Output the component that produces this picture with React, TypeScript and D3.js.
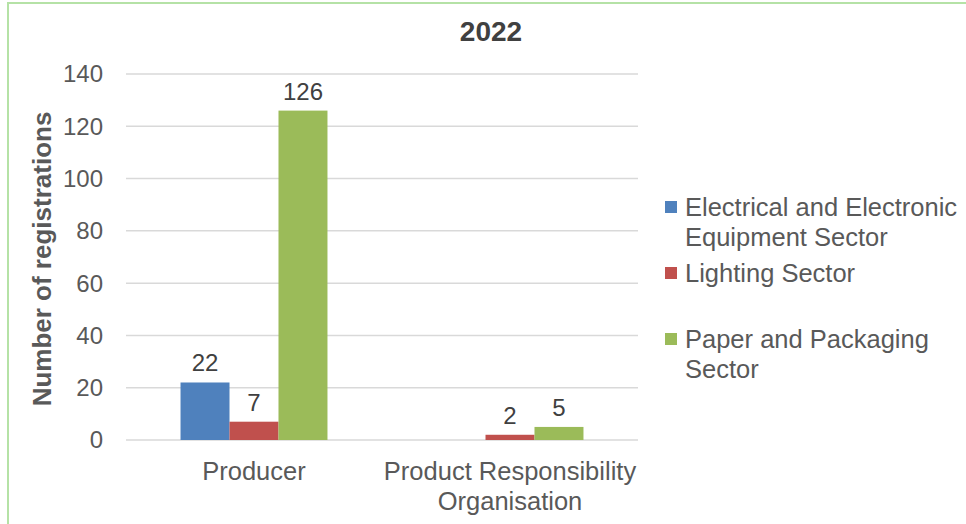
import React from "react";
import * as d3 from "d3";

const categories = ["Producer", "Product Responsibility\nOrganisation"];
const seriesNames = ["Electrical and Electronic\nEquipment Sector", "Lighting Sector", "Paper and Packaging\nSector"];
const electrical = [22, null];
const lighting = [7, 2];
const paper = [126, 5];
const yTicks = [0, 20, 40, 60, 80, 100, 120, 140];
const title = "2022";
const yLabel = "Number of registrations";

const colors = ["#4f81bd", "#c0504d", "#9bbb59"];
const W = 966, H = 524;
const plot = { left: 126, right: 638, top: 74, bottom: 440 };
const font = "'Liberation Sans', Arial, sans-serif";

export default function App() {
  const series = [electrical, lighting, paper];
  const x0 = d3.scaleBand<string>().domain(categories).range([plot.left, plot.right]).paddingInner(0.426).paddingOuter(0.213);
  const x1 = d3.scaleBand<number>().domain([0, 1, 2]).range([0, x0.bandwidth()]);
  const y = d3.scaleLinear().domain([0, 140]).range([plot.bottom, plot.top]);
  const legendY = [207, 273, 339];
  return (
    <svg width={W} height={H} style={{ position: "absolute", left: 0, top: 0, fontFamily: font }}>
      <rect x={0} y={0} width={W} height={H} fill="#fff" />
      <rect x={8} y={3} width={W + 10} height={H + 10} fill="none" stroke="#b5e2a6" strokeWidth={2} />
      <text x={491} y={41} textAnchor="middle" fontSize={28} fontWeight="bold" fill="#404040">{title}</text>
      {yTicks.map((t) => (
        <g key={t}>
          <line x1={plot.left} x2={plot.right} y1={y(t)} y2={y(t)} stroke="#d9d9d9" strokeWidth={1.5} />
          <text x={103} y={y(t)} dy="0.35em" textAnchor="end" fontSize={24} fill="#595959">{t}</text>
        </g>
      ))}
      <text transform={`translate(51,${(plot.top + plot.bottom) / 2 + 2}) rotate(-90)`} textAnchor="middle" fontSize={26} fontWeight="bold" fill="#595959">{yLabel}</text>
      {categories.map((c, ci) => (
        <g key={c}>
          {series.map((s, si) => {
            const v = s[ci];
            if (v == null) return null;
            const bx = (x0(c) as number) + (x1(si) as number);
            const bw = x1.bandwidth();
            return (
              <g key={si}>
                <rect x={bx} y={y(v)} width={bw} height={plot.bottom - y(v)} fill={colors[si]} />
                <text x={bx + bw / 2} y={y(v) - 11} textAnchor="middle" fontSize={24} fill="#404040">{v}</text>
              </g>
            );
          })}
          {c.split("\n").map((line, li) => (
            <text key={li} x={(x0(c) as number) + x0.bandwidth() / 2} y={480 + li * 30} textAnchor="middle" fontSize={25.5} fill="#595959">{line}</text>
          ))}
        </g>
      ))}
      {seriesNames.map((n, i) => (
        <g key={n}>
          <rect x={665} y={legendY[i] - 6} width={12} height={12} fill={colors[i]} />
          {n.split("\n").map((line, li) => (
            <text key={li} x={685} y={legendY[i] + li * 30} dy="0.35em" fontSize={25.5} fill="#595959">{line}</text>
          ))}
        </g>
      ))}
    </svg>
  );
}
